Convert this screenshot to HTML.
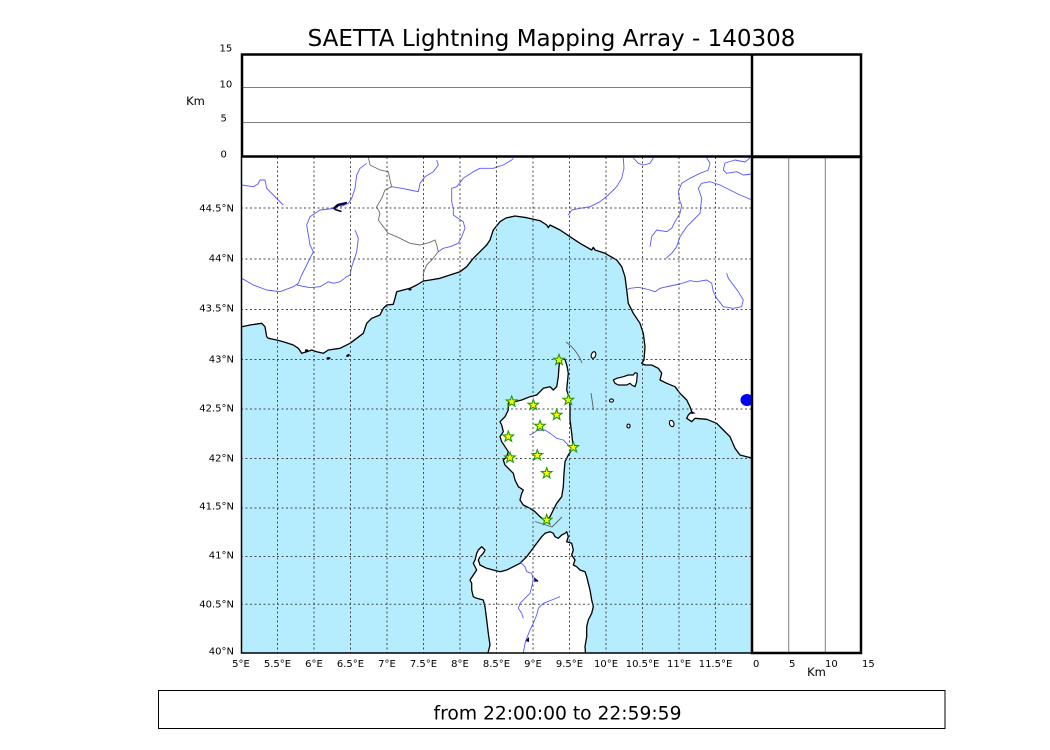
<!DOCTYPE html>
<html><head><meta charset="utf-8"><style>
html,body{margin:0;padding:0;background:#fff;}
svg{display:block;}
text{font-family:"DejaVu Sans","Liberation Sans",sans-serif;fill:#000;}
</style></head><body>
<svg width="1050" height="750" viewBox="0 0 1050 750" xmlns="http://www.w3.org/2000/svg">
<defs><clipPath id="mc"><rect x="241" y="157" width="511" height="496"/></clipPath>
<symbol id="st" viewBox="-6 -6 12 12" overflow="visible"><polygon points="0,-5.6 1.35,-1.85 5.3,-1.75 2.2,0.7 3.3,4.5 0,2.3 -3.3,4.5 -2.2,0.7 -5.3,-1.75 -1.35,-1.85" fill="#ffff00" stroke="#1f9a00" stroke-width="1.1" stroke-linejoin="miter"/></symbol></defs>

<text x="551.5" y="46" font-size="23" text-anchor="middle">SAETTA Lightning Mapping Array - 140308</text>

<g clip-path="url(#mc)">
<rect x="241" y="157" width="511" height="496" fill="#b5ecfe"/>
<!-- mainland -->
<path fill="#fff" stroke="#000" stroke-width="1.3" stroke-linejoin="round" d="M238,150 L760,150 L760,458 L752,458 L746.7,456.7 L740,455 L735,448.3 L730,436.7 L723.3,430 L716.7,423.3 L706.7,419.3 L695,418.3 L691.7,421.7 L686.7,418.3 L688.3,415 L691.7,411.7 L690,406.7 L686.7,400 L680,393.3 L675,386.7 L666.7,383.3 L660,380 L661.7,373.3 L658.3,368.3 L651.7,365 L645,365 L641.7,363.3 L644,360 L645,346.7 L643.3,333.3 L640,323.3 L633.3,313.3 L628.3,303.3 L626.7,290 L625,276.7 L621.7,266.7 L616.7,260 L605,253.3 L595,250 L593.3,247.3 L591.7,250 L580,243.3 L570,236.7 L560,230 L550,225 L548.3,227.7 L546.7,225 L540,220.7 L526.7,217.7 L515,216 L506,218 L500,221.7 L493.3,230 L490,240 L486.7,245 L480,251.7 L473.3,258.3 L466.7,266.7 L460,271.7 L450,275 L440,278.3 L430,280 L423.3,281 L416.7,285 L410,288.3 L403.3,290 L396.7,291.7 L395,298.3 L393.3,304.3 L386.7,305 L383.3,308.3 L380,315 L371.7,318.3 L366.7,323.3 L365,328.3 L363.3,333.3 L356.7,338.3 L350,343.3 L340,348.3 L328.3,350 L323.3,353.3 L316.7,351.7 L311.7,350 L306.7,351.7 L301.7,353.3 L298.3,348.3 L293.3,345 L283.3,341.7 L276.7,340 L268.3,338.3 L266.7,336.7 L265,326.7 L261.7,323.3 L250,325 L241.7,326.7 L238,326.7 Z"/>
<!-- small islands near Hyeres -->
<ellipse cx="306.5" cy="350.5" rx="1.6" ry="1.2" fill="#000"/>
<ellipse cx="328.5" cy="358.3" rx="2" ry="1.2" fill="#000"/>
<ellipse cx="348" cy="355.5" rx="2" ry="1.2" fill="#000" transform="rotate(-30 348 355.5)"/>
<ellipse cx="410" cy="289.5" rx="1.6" ry="1" fill="#000"/>
<!-- Corsica -->
<path fill="#fff" stroke="#000" stroke-width="1.3" stroke-linejoin="round" d="M560,358.5 L565,359.5 L567,366 L568.3,373.3 L567.3,383.3 L566.7,390 L569.3,398.3 L570,406.7 L570,420 L571.7,433.3 L572.7,443.3 L571.7,450 L568.3,455 L565,461.7 L564,473.3 L563.3,486.7 L561.7,496.7 L556.7,503.3 L553.3,510 L550,516.7 L546.7,520 L545,520.5 L540,516.7 L535,511.7 L530,508.3 L523.3,505 L520,500 L521.7,493.3 L523.3,490 L518.3,486.7 L515,480 L513.3,473.3 L510,470 L505,465 L503.3,460 L506.7,456.7 L508.3,451.7 L505,446.7 L501.7,441.7 L500,436.7 L503.3,431.7 L501.7,425 L500,421.7 L505,416.7 L508.3,410 L508.3,403.3 L515,401.7 L521.7,400 L530,396.7 L536.7,395 L540,391.7 L543.3,388.3 L550,386.7 L553.3,390 L556.7,386.7 L558.3,376.7 L559,366.7 Z"/>
<!-- Sardinia -->
<path fill="#fff" stroke="#000" stroke-width="1.3" stroke-linejoin="round" d="M488.3,660 L488.3,651.7 L490,645 L488.3,633.3 L486.7,620 L485,606.7 L483.3,600 L476.7,598.3 L473.3,596.7 L471.7,590 L471.7,583.3 L470,580 L473.3,575 L476.7,570 L473.3,563.3 L475,560 L476.7,553.3 L478.3,550 L481.7,546.7 L485,550 L483.3,553.3 L480,556.7 L478.3,560 L480,565 L486.7,568.3 L493.3,570 L500,571.7 L506.7,570 L513.3,566.7 L520,563.3 L526.7,556.7 L531.7,550 L536.7,543.3 L541.7,536.7 L545,533.3 L550,531.7 L553.3,533.3 L555,536.7 L558.3,538.3 L561.7,535 L565,533.3 L566.7,531.7 L568.3,536.7 L566.7,541.7 L571.7,543.3 L573.3,550 L571.7,555 L575,560 L573.3,565 L576.7,566.7 L580,570 L585,571.7 L586.7,576.7 L588.3,583.3 L590,590 L591.7,600 L593.3,606.7 L591.7,613.3 L588.3,620 L586.7,626.7 L586.7,636.7 L585,646.7 L586,660 Z"/>
<!-- Tuscan islands -->
<path fill="#fff" stroke="#000" stroke-width="1.2" stroke-linejoin="round" d="M613.3,380 L616.7,378.3 L623.3,376.7 L628.3,375 L633.3,375 L635,372.7 L637.3,373.3 L636.7,381.7 L635,386.7 L631.7,385 L630,383.3 L626.7,385 L623.3,385 L618.3,385 L615,383.3 Z"/>
<ellipse cx="593.5" cy="355" rx="2.2" ry="3.4" transform="rotate(20 593.5 355)" fill="#fff" stroke="#000" stroke-width="1.1"/>
<ellipse cx="611.5" cy="400.5" rx="2" ry="1.6" fill="#fff" stroke="#000" stroke-width="1.1"/>
<ellipse cx="628.5" cy="426" rx="1.6" ry="1.9" fill="#fff" stroke="#000" stroke-width="1.1"/>
<ellipse cx="671.7" cy="423.5" rx="2.2" ry="3.2" transform="rotate(-20 671.7 423.5)" fill="#fff" stroke="#000" stroke-width="1.1"/>
<!-- lakes -->
<path d="M333.5,209 L338,205 L347,203" fill="none" stroke="#000040" stroke-width="2.6"/>
<path d="M335,209.5 L341.5,211.5" fill="none" stroke="#000040" stroke-width="1.5"/>
<ellipse cx="747" cy="400" rx="6.5" ry="6" fill="#0000ff"/>
<path d="M692,411 L695.5,413.5 L691,414 Z" fill="#000080"/>
<path d="M534,577 L538,581 L534.5,582 Z" fill="#000060"/>
<path d="M525,641 L529,637 L529,642 Z" fill="#000060"/>
<path d="M535,579 L538,581.5" stroke="#000060" stroke-width="1.5"/>
<!-- rivers -->
<g fill="none" stroke="#5858ff" stroke-width="0.9" stroke-linejoin="round">
<path d="M241.7,185 L253.3,186.7 L258,184 L260,180 L265,180 L266.7,188.3 L273.3,195 L283.3,205"/>
<path d="M366.7,163.3 L360,168.3 L356.7,175 L355,188.3 L351.7,198.3 L348.3,203.3 L340,207"/>
<path d="M333,208.5 L320,210 L310,216.7 L306.7,225 L308.3,235 L310,245 L313.3,251.7 L310,258.3 L306.7,265 L301.7,275 L298.3,283.3 L293.3,286.7 L280,291.7 L266.7,290 L253.3,285 L241.7,278.3"/>
<path d="M296.7,285 L310,287.7 L320,286.7 L328.3,281.7 L333.3,283.3 L340,281.7 L346.7,276.7 L350,275 L351.7,266.7 L356.7,251.7 L358.3,238.3 L355,230"/>
<path d="M436.7,160 L438.3,165 L433.3,171.7 L425,176.7 L420,183.3 L418.3,191.7 L410,190 L401.7,188.3 L391.7,186.7"/>
<path d="M513.3,158.3 L511.7,160 L503.3,165 L493.3,168.3 L480,168.3 L473.3,171.7 L463.3,178.3 L456.7,186.7 L451.7,188.3 L451.7,201.7 L453.3,208.3 L453.3,215 L463.3,221.7 L465,228.3 L461.7,236.7 L458.3,243.3 L450,246.7 L443.3,248.3 L438.3,251.7"/>
<path d="M623.3,158 L624,168.3 L621.7,178.3 L616.7,186.7 L608.3,195 L600,201.7 L590,206.7 L580,208.3 L571.7,210 L568.3,215"/>
<path d="M633.3,158 L638.3,163.3 L643.3,165 L650,163.3 L653.3,158"/>
<path d="M706.7,158 L710,163.3 L708.3,170 L700,173.3 L690,178.3 L681.7,183.3 L678.3,191.7 L680,201.7 L681.7,205 L680,213.3 L675,221.7 L671.7,228.3 L666.7,231.7 L656.7,230 L651.7,236.7 L650,246.7"/>
<path d="M750,158 L745,162 L735,160 L725,163 L723.3,170 L726.7,173.3 L736.7,171.7 L743.3,175 L752,174"/>
<path d="M752,200 L740,195 L730,190 L720,185 L710,181.7 L701.7,183.3 L698.3,188.3 L701.7,198.3 L700,213.3 L693.3,220 L686.7,226.7 L680,236.7 L676.7,246.7 L671.7,253.3 L666,258.3"/>
<path d="M626.7,290 L630,288.3 L638.3,287.3 L643.3,288.3 L650,290 L655,291.7 L660,288.3 L670,286 L680,284 L690,280.7 L696.7,281.7 L706.7,280 L711.7,283.3 L713.3,291.7 L716.7,298.3 L723.3,306.7 L733.3,308.3 L741.7,306.7 L743.3,300 L738.3,291.7 L733.3,285 L728.3,278.3 L726.7,273.3"/>
<path d="M529.3,435 L533.3,433.3 L537,430.5 L545,430 L550,433.3 L556.7,438.3 L563.3,440 L570,446.7"/>
<path d="M520,561.7 L525,566.7 L526.7,571.7 L531.7,573.3 L533.3,580 L531.7,586.7 L530,593.3 L525,598.3 L520,603.3 L518.3,608.3 L521.7,613.3 L523.3,618.3"/>
<path d="M560,596.7 L551.7,600 L543.3,603.3 L538.3,608.3 L536.7,615 L533.3,623.3 L530,630 L526.7,638.3 L525,643.3 L523.3,653"/>
</g>
<!-- border -->
<path fill="none" stroke="#6a6a6a" stroke-width="0.9" d="M368.3,157 L370,165 L380,170 L388.3,171.7 L390,180 L391.7,186.7 L385,190 L381.7,198.3 L376.7,206.7 L380,213.3 L378.3,220 L383.3,226.7 L388.3,233.3 L396.7,236.7 L410,243.3 L420,245 L430,242.3 L435,240 L436.7,245 L438.3,251.7 L431.7,260 L426.7,265 L423.3,273.3 L423.3,280"/>
<!-- gray lines -->
<g fill="none" stroke="#5e5e5e" stroke-width="0.9">
<path d="M566,342 Q577,350 582,363"/>
<path d="M591,393 L593.5,410"/>
<path d="M535,521.5 L552,527 L562,517"/>
</g>
<!-- grid -->
<g stroke="#4a4a4a" stroke-width="1" stroke-dasharray="2 2.5" fill="none">
<path d="M277.5,157V653M314,157V653M350.5,157V653M387,157V653M423.5,157V653M460,157V653M496.5,157V653M533,157V653M569.5,157V653M606,157V653M642.5,157V653M679,157V653M715.5,157V653"/>
<path d="M241,208H752M241,259H752M241,309.5H752M241,359.5H752M241,409H752M241,458.5H752M241,508H752M241,556.5H752M241,604.3H752"/>
</g>
<!-- stars -->
<use href="#st" x="553" y="354" width="12" height="12"/>
<use href="#st" x="562.3" y="394" width="12" height="12"/>
<use href="#st" x="505.7" y="395.7" width="12" height="12"/>
<use href="#st" x="527.3" y="399" width="12" height="12"/>
<use href="#st" x="550.7" y="409" width="12" height="12"/>
<use href="#st" x="534" y="420" width="12" height="12"/>
<use href="#st" x="502.3" y="430.7" width="12" height="12"/>
<use href="#st" x="567.3" y="441.3" width="12" height="12"/>
<use href="#st" x="504" y="451.7" width="12" height="12"/>
<use href="#st" x="531.3" y="449.3" width="12" height="12"/>
<use href="#st" x="540.7" y="467.3" width="12" height="12"/>
<use href="#st" x="540.7" y="514" width="12" height="12"/>
</g>
<!-- map frame -->
<path d="M241.5,157V653H752" fill="none" stroke="#000" stroke-width="1.5"/>
<!-- top panel -->
<path d="M242,87.5H751M242,122.5H751" stroke="#808080" stroke-width="1"/>
<rect x="242" y="54.5" width="619" height="102" fill="none" stroke="#000" stroke-width="2.5"/>
<line x1="752" y1="54" x2="752" y2="157" stroke="#000" stroke-width="2.5"/>
<!-- right panel -->
<path d="M788.7,158V652M825.3,158V652" stroke="#808080" stroke-width="1"/>
<rect x="752" y="157" width="109" height="496" fill="none" stroke="#000" stroke-width="2.5"/>

<!-- labels -->
<g font-size="10">
<text x="219.5" y="51.6">15</text>
<text x="219.5" y="87.6">10</text>
<text x="220.5" y="121.6">5</text>
<text x="220.5" y="157.6">0</text>
<g text-anchor="end">
<text x="234" y="211.6">44.5°N</text>
<text x="234" y="261.6">44°N</text>
<text x="234" y="311.6">43.5°N</text>
<text x="234" y="362.6">43°N</text>
<text x="234" y="411.6">42.5°N</text>
<text x="234" y="461.6">42°N</text>
<text x="234" y="509.6">41.5°N</text>
<text x="234" y="558.6">41°N</text>
<text x="234" y="607.6">40.5°N</text>
<text x="234" y="654.6">40°N</text>
</g>
<g text-anchor="middle">
<text x="241" y="667">5°E</text>
<text x="277.5" y="667">5.5°E</text>
<text x="314" y="667">6°E</text>
<text x="350.5" y="667">6.5°E</text>
<text x="387" y="667">7°E</text>
<text x="423.5" y="667">7.5°E</text>
<text x="460" y="667">8°E</text>
<text x="496.5" y="667">8.5°E</text>
<text x="533" y="667">9°E</text>
<text x="569.5" y="667">9.5°E</text>
<text x="606" y="667">10°E</text>
<text x="642.5" y="667">10.5°E</text>
<text x="679" y="667">11°E</text>
<text x="715.5" y="667">11.5°E</text>
</g>
<text x="753" y="667">0</text>
<text x="789" y="667">5</text>
<text x="825" y="667">10</text>
<text x="862" y="667">15</text>
</g>
<text x="195.5" y="105" font-size="11.5" text-anchor="middle">Km</text>
<text x="816.5" y="676" font-size="11.5" text-anchor="middle">Km</text>

<!-- bottom box -->
<rect x="158.5" y="690.5" width="786.5" height="38" fill="none" stroke="#000" stroke-width="1"/>
<text x="557.5" y="719.5" font-size="18.7" text-anchor="middle">from 22:00:00 to 22:59:59</text>
</svg>
</body></html>
